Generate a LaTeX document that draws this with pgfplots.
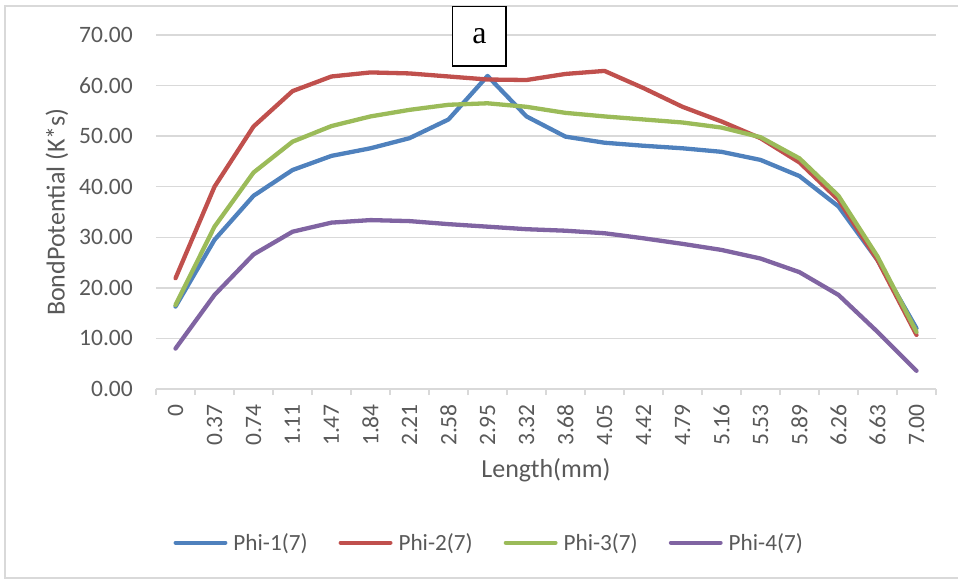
\documentclass[border=0pt]{standalone}
\usepackage{pgfplots}
\pgfplotsset{compat=1.18}
\usepackage{fontspec}
\setmainfont{Carlito}
\newfontfamily\serifa{Liberation Serif}

\definecolor{txt}{HTML}{595959}
\definecolor{gridc}{HTML}{D9D9D9}
\definecolor{s1}{HTML}{4F81BD}
\definecolor{s2}{HTML}{C0504D}
\definecolor{s3}{HTML}{9BBB59}
\definecolor{s4}{HTML}{8064A2}

\begin{document}
\begin{tikzpicture}
\useasboundingbox (-156bp,-192bp) rectangle (802bp,389bp);
% chart area frame
\draw[gridc, line width=1.3bp] (810bp,383bp) -- (-151bp,383bp) -- (-151bp,-189bp) -- (810bp,-189bp);
\begin{axis}[
  at={(0,0)}, anchor=south west,
  scale only axis, width=780bp, height=354bp,
  xmin=-0.5, xmax=19.5, ymin=0, ymax=70,
  xtick={0,...,19},
  xticklabels={0,0.37,0.74,1.11,1.47,1.84,2.21,2.58,2.95,3.32,3.68,4.05,4.42,4.79,5.16,5.53,5.89,6.26,6.63,7.00},
  minor xtick={-0.5,0.5,...,19.5},
  ytick={0,10,...,70},
  xtick pos=bottom, ytick pos=left,
  major tick length=0pt, minor tick length=6bp, tick align=outside,
  minor tick style={draw=gridc, line width=1.3bp},
  ymajorgrids, grid style={draw=gridc, line width=1.3bp},
  axis line style={draw=none},
  yticklabel={\pgfmathprintnumber[fixed,fixed zerofill,precision=2,assume math mode=true]{\tick}},
  yticklabel style={font=\fontsize{23.5bp}{28bp}\selectfont, text=txt, anchor=east, inner sep=0pt},
  yticklabel shift=23bp,
  xticklabel style={font=\fontsize{23.5bp}{28bp}\selectfont, text=txt, rotate=90, anchor=east, inner sep=0pt},
  xticklabel shift=15bp,
  legend columns=4,
  legend style={draw=none, fill=none, at={(0.4259,-0.4342)}, anchor=center,
    font=\fontsize{23.2bp}{28bp}\selectfont, text=txt,
    nodes={inner sep=0pt},
    /tikz/every odd column/.append style={column sep=6bp},
    /tikz/every even column/.append style={column sep=31bp}},
  legend image code/.code={\draw[#1, line width=4.3bp, line cap=round] (0bp,0bp) -- (49.6bp,0bp);},
  every axis plot/.append style={line width=4.3bp, line cap=round, line join=round},
]
\addplot[s1] coordinates {(0,16.3) (1,29.5) (2,38.2) (3,43.3) (4,46.1) (5,47.6) (6,49.6) (7,53.3) (8,61.9) (9,53.9) (10,49.9) (11,48.7) (12,48.1) (13,47.6) (14,46.9) (15,45.3) (16,42.1) (17,36.1) (18,25.5) (19,12.0)};
\addlegendentry{Phi-1(7)}
\addplot[s2] coordinates {(0,21.9) (1,40.0) (2,51.9) (3,58.9) (4,61.8) (5,62.6) (6,62.4) (7,61.8) (8,61.2) (9,61.1) (10,62.3) (11,62.9) (12,59.5) (13,55.8) (14,52.9) (15,49.6) (16,44.8) (17,37.4) (18,25.5) (19,10.7)};
\addlegendentry{Phi-2(7)}
\addplot[s3] coordinates {(0,16.6) (1,32.1) (2,42.8) (3,48.9) (4,52.0) (5,53.9) (6,55.2) (7,56.2) (8,56.5) (9,55.8) (10,54.6) (11,53.9) (12,53.3) (13,52.7) (14,51.7) (15,49.8) (16,45.6) (17,38.2) (18,26.2) (19,11.3)};
\addlegendentry{Phi-3(7)}
\addplot[s4] coordinates {(0,8.0) (1,18.6) (2,26.6) (3,31.1) (4,32.9) (5,33.4) (6,33.2) (7,32.6) (8,32.1) (9,31.6) (10,31.3) (11,30.8) (12,29.8) (13,28.7) (14,27.5) (15,25.8) (16,23.1) (17,18.6) (18,11.3) (19,3.6)};
\addlegendentry{Phi-4(7)}
\end{axis}
% axis titles
\node[rotate=90, font=\fontsize{26bp}{31bp}\selectfont, text=txt] at (-99bp,177bp) {BondPotential (K*s)};
\node[font=\fontsize{26bp}{31bp}\selectfont, text=txt] at (390bp,-81bp) {Length(mm)};
% panel tag
\node[draw=black, fill=white, line width=1.1bp, minimum width=53.3bp, minimum height=59.3bp, inner sep=0pt,
  font=\serifa\fontsize{32bp}{36bp}\selectfont] at (323.35bp,352.65bp) {a};
\end{tikzpicture}
\end{document}
